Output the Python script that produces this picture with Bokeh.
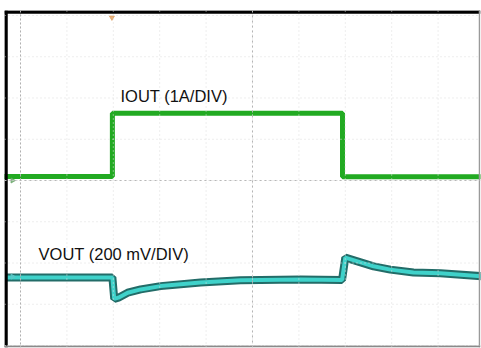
from bokeh.plotting import figure
from bokeh.models import Span, Range1d, Label
from bokeh.embed import file_html
from bokeh.resources import INLINE

# Oscilloscope capture, coordinates in screen divisions (10 x 8 grid)
time_div = [-0.3, 1.98, 2.02, 2.11, 2.31, 2.59, 3.02, 3.88, 4.74, 6.03, 6.93,
            7.00, 7.61, 7.97, 8.47, 9.05, 9.95]
vout_div = [-2.35, -2.35, -2.87, -2.84, -2.72, -2.64, -2.56, -2.47, -2.42,
            -2.40, -2.41, -1.87, -2.08, -2.16, -2.23, -2.25, -2.32]

iout_time = [-0.4, 1.98, 1.98, 6.94, 6.94, 9.95]
iout_div = [0.10, 0.10, 1.63, 1.63, 0.09, 0.09]

# channel ground markers and trigger position (divisions)
ch_marker_y = [0.0, -2.33]
ch_marker_colors = ["#6aa86a", "#5cc8c8"]
trigger_t = [1.97]

grid_x = [0, 1, 2, 3, 4, 5, 6, 7, 8, 9, 10]
grid_y = [-4, -3, -2, -1, 0, 1, 2, 3, 4]

X0, X1 = -0.345, 9.914
Y0, Y1 = -4.048, 4.121
FW, FH = 476.0, 337.0
PX = (X1 - X0) / FW   # data units per screen pixel
PY = (Y1 - Y0) / FH

p = figure(width=481, height=348, output_backend="svg", toolbar_location=None,
           x_range=Range1d(X0, X1), y_range=Range1d(Y0, Y1),
           min_border_left=4, min_border_top=10, min_border_right=1,
           min_border_bottom=1, x_axis_location=None, y_axis_location=None)
p.outline_line_color = None
p.background_fill_color = "white"
p.border_fill_color = "white"
p.grid.visible = False

for gx in grid_x:
    p.add_layout(Span(location=gx, dimension="height", line_color="#dcdcdc",
                      line_width=1, line_dash="1 3"))
for gy in grid_y:
    p.add_layout(Span(location=gy, dimension="width", line_color="#dcdcdc",
                      line_width=1, line_dash="1 3"))
# center axes and left edge
p.add_layout(Span(location=5, dimension="height", line_color="#b4b4b4",
                  line_width=1, line_dash="2 3"))
p.add_layout(Span(location=0, dimension="width", line_color="#b8b8b8",
                  line_width=1, line_dash="2 3"))
p.add_layout(Span(location=0, dimension="height", line_color="#b0b0b0",
                  line_width=1, line_dash="2 2"))
p.add_layout(Span(location=-4, dimension="width", line_color="#c0c0c0",
                  line_width=1, line_dash="1 2"))

# traces
p.line(iout_time, iout_div, line_color="#22aa22", line_width=5)
p.line(time_div, vout_div, line_color="#236c68", line_width=8)
p.line(time_div, vout_div, line_color="#3fd2ca", line_width=4)

# small scope markers
p.scatter(x=[X0 + 8 * PX] * 2, y=ch_marker_y, marker="triangle", angle=-1.5708,
          size=5, color=ch_marker_colors, alpha=0.8)
p.scatter(x=trigger_t, y=[Y1 - 7 * PY], marker="inverted_triangle", size=5,
          color="#e0a060", alpha=0.8)

p.add_layout(Label(x=2.155, y=2.04, text="IOUT (1A/DIV)",
                   text_font="Liberation Sans", text_font_size="16.5px",
                   text_color="#111111", text_baseline="alphabetic"))
p.add_layout(Label(x=0.39, y=-1.77, text="VOUT (200 mV/DIV)",
                   text_font="Liberation Sans", text_font_size="16.5px",
                   text_color="#111111", text_baseline="alphabetic"))

# frame of the screen capture (drawn as glyphs along the range limits)
xl = X0 + 1.5 * PX
yt = Y1 - 1.5 * PY
xr = X1 - 1.0 * PX
yb = Y0 + 1.0 * PY
p.segment(x0=[xl], y0=[Y0], x1=[xl], y1=[Y1], line_color="black", line_width=3.5)
p.segment(x0=[X0], y0=[yt], x1=[X1], y1=[yt], line_color="black", line_width=3.5)
p.segment(x0=[xr], y0=[Y0], x1=[xr], y1=[Y1], line_color="#9a9a9a", line_width=1.5)
p.segment(x0=[X0], y0=[yb], x1=[X1], y1=[yb], line_color="#8a8a8a", line_width=2)

open("out.html", "w").write(file_html(p, INLINE))
